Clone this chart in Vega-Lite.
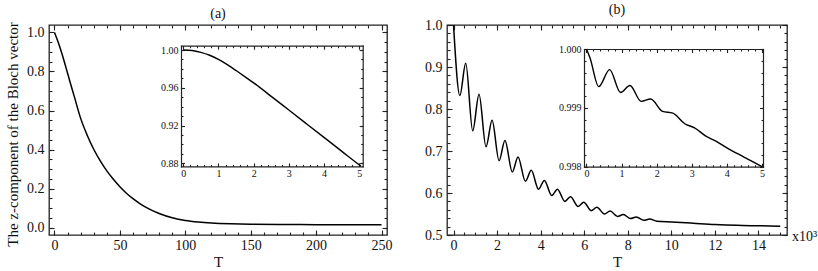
{
  "$schema": "https://vega.github.io/schema/vega-lite/v6.json",
  "autosize": {"type": "pad"},
  "padding": {"left": 4, "top": 2, "right": 0, "bottom": 0},
  "background": "white",
  "datasets": {
    "aMain": [
      {"T": 0, "z": 1.0}, {"T": 2, "z": 0.965}, {"T": 4, "z": 0.927}, {"T": 6, "z": 0.884},
      {"T": 8, "z": 0.838}, {"T": 10, "z": 0.791}, {"T": 12, "z": 0.744}, {"T": 15, "z": 0.675},
      {"T": 20, "z": 0.56}, {"T": 25, "z": 0.474}, {"T": 30, "z": 0.402}, {"T": 35, "z": 0.342},
      {"T": 40, "z": 0.291}, {"T": 45, "z": 0.248}, {"T": 50, "z": 0.21}, {"T": 55, "z": 0.177},
      {"T": 60, "z": 0.149}, {"T": 65, "z": 0.125}, {"T": 70, "z": 0.104}, {"T": 80, "z": 0.073},
      {"T": 90, "z": 0.051}, {"T": 100, "z": 0.037}, {"T": 110, "z": 0.029}, {"T": 120, "z": 0.024},
      {"T": 135, "z": 0.02}, {"T": 150, "z": 0.018}, {"T": 175, "z": 0.017}, {"T": 200, "z": 0.016},
      {"T": 250, "z": 0.015}
    ],
    "aInset": [
      {"T": 0, "z": 1.0}, {"T": 0.25, "z": 0.9995}, {"T": 0.5, "z": 0.9976}, {"T": 0.75, "z": 0.9945},
      {"T": 1.0, "z": 0.99}, {"T": 1.25, "z": 0.9845}, {"T": 1.5, "z": 0.9783}, {"T": 1.75, "z": 0.9718},
      {"T": 2.0, "z": 0.9652}, {"T": 2.5, "z": 0.951}, {"T": 3.0, "z": 0.9365}, {"T": 3.5, "z": 0.922},
      {"T": 4.0, "z": 0.9075}, {"T": 4.5, "z": 0.893}, {"T": 5.0, "z": 0.8785}, {"T": 5.05, "z": 0.8771}
    ],
    "bMain": [
      {"T": 0, "z": 1.0}, {"T": 0.29, "z": 0.832}, {"T": 0.56, "z": 0.909}, {"T": 0.88, "z": 0.748},
      {"T": 1.17, "z": 0.835}, {"T": 1.49, "z": 0.71}, {"T": 1.77, "z": 0.773}, {"T": 2.09, "z": 0.677},
      {"T": 2.36, "z": 0.725}, {"T": 2.7, "z": 0.65}, {"T": 2.96, "z": 0.686}, {"T": 3.3, "z": 0.628},
      {"T": 3.57, "z": 0.654}, {"T": 3.9, "z": 0.609}, {"T": 4.17, "z": 0.63}, {"T": 4.51, "z": 0.594},
      {"T": 4.77, "z": 0.609}, {"T": 5.11, "z": 0.58}, {"T": 5.37, "z": 0.591}, {"T": 5.72, "z": 0.568},
      {"T": 5.98, "z": 0.578}, {"T": 6.32, "z": 0.558}, {"T": 6.58, "z": 0.566}, {"T": 6.93, "z": 0.55},
      {"T": 7.19, "z": 0.557}, {"T": 7.53, "z": 0.544}, {"T": 7.79, "z": 0.549}, {"T": 8.13, "z": 0.539},
      {"T": 8.39, "z": 0.543}, {"T": 8.74, "z": 0.535}, {"T": 9.0, "z": 0.538}, {"T": 9.34, "z": 0.533},
      {"T": 10, "z": 0.531}, {"T": 11, "z": 0.528}, {"T": 12, "z": 0.525}, {"T": 13, "z": 0.523},
      {"T": 14, "z": 0.522}, {"T": 15, "z": 0.521}
    ],
    "bInset": [
      {"T": 0, "z": 1.0}, {"T": 0.1, "z": 0.99985}, {"T": 0.35, "z": 0.99936}, {"T": 0.66, "z": 0.99965},
      {"T": 0.97, "z": 0.99926}, {"T": 1.24, "z": 0.99938}, {"T": 1.56, "z": 0.99911}, {"T": 1.83, "z": 0.99915},
      {"T": 2.17, "z": 0.99894}, {"T": 2.46, "z": 0.99891}, {"T": 2.8, "z": 0.99873}, {"T": 3.08, "z": 0.99866},
      {"T": 3.4, "z": 0.99852}, {"T": 3.7, "z": 0.99843}, {"T": 4.0, "z": 0.99832}, {"T": 4.5, "z": 0.99816},
      {"T": 5.0, "z": 0.998}
    ],
    "bNote": [{"T": 15.31, "z": 0.5, "s": "x10³"}]
  },
  "spacing": 30,
  "hconcat": [
    {
      "width": 338,
      "height": 210,
      "title": {"text": "(a)"},
      "resolve": {"scale": {"x": "independent", "y": "independent"}},
      "layer": [
        {
          "data": {"name": "aMain"},
          "mark": {"type": "line", "color": "#000", "strokeWidth": 1.5, "interpolate": "monotone"},
          "encoding": {
            "x": {"field": "T", "type": "quantitative", "scale": {"domain": [-4.2, 254.2], "nice": false, "zero": false},
              "axis": {"orient": "bottom", "title": "T", "format": "d", "values": [0,50,100,150,200,250], "tickSize": -5, "labelPadding": 8, "titlePadding": 2}},
            "y": {"field": "z", "type": "quantitative", "scale": {"domain": [-0.037, 1.038], "nice": false, "zero": false},
              "axis": {"orient": "left", "title": "The z-component of the Bloch vector", "format": ".1f", "values": [0,0.2,0.4,0.6,0.8,1], "tickSize": -5, "labelPadding": 10, "titlePadding": 6, "titleY": 109}}
          }
        },
        {
          "data": {"name": "aMain"},
          "mark": {"type": "line", "opacity": 0},
          "encoding": {
            "x": {"field": "T", "type": "quantitative", "scale": {"domain": [-4.2, 254.2], "nice": false, "zero": false},
              "axis": {"orient": "top", "title": null, "labels": false, "values": [0,50,100,150,200,250], "tickSize": -5}},
            "y": {"field": "z", "type": "quantitative", "scale": {"domain": [-0.037, 1.038], "nice": false, "zero": false},
              "axis": {"orient": "right", "title": null, "labels": false, "values": [0,0.2,0.4,0.6,0.8,1], "tickSize": -5}}
          }
        },
        {
          "data": {"name": "aMain"},
          "mark": {"type": "line", "opacity": 0},
          "encoding": {
            "x": {"field": "T", "type": "quantitative", "scale": {"domain": [-4.2, 254.2], "nice": false, "zero": false},
              "axis": {"orient": "bottom", "title": null, "labels": false, "tickSize": -3,
                "values": [0,10,20,30,40,50,60,70,80,90,100,110,120,130,140,150,160,170,180,190,200,210,220,230,240,250]}},
            "y": {"field": "z", "type": "quantitative", "scale": {"domain": [-0.037, 1.038], "nice": false, "zero": false},
              "axis": {"orient": "left", "title": null, "labels": false, "tickSize": -3,
                "values": [0,0.05,0.1,0.15,0.2,0.25,0.3,0.35,0.4,0.45,0.5,0.55,0.6,0.65,0.7,0.75,0.8,0.85,0.9,0.95,1]}}
          }
        },
        {
          "data": {"name": "aMain"},
          "mark": {"type": "line", "opacity": 0},
          "encoding": {
            "x": {"field": "T", "type": "quantitative", "scale": {"domain": [-4.2, 254.2], "nice": false, "zero": false},
              "axis": {"orient": "top", "title": null, "labels": false, "tickSize": -3,
                "values": [0,10,20,30,40,50,60,70,80,90,100,110,120,130,140,150,160,170,180,190,200,210,220,230,240,250]}},
            "y": {"field": "z", "type": "quantitative", "scale": {"domain": [-0.037, 1.038], "nice": false, "zero": false},
              "axis": {"orient": "right", "title": null, "labels": false, "tickSize": -3,
                "values": [0,0.05,0.1,0.15,0.2,0.25,0.3,0.35,0.4,0.45,0.5,0.55,0.6,0.65,0.7,0.75,0.8,0.85,0.9,0.95,1]}}
          }
        },
        {
          "data": {"name": "aInset"},
          "mark": {"type": "line", "color": "#000", "strokeWidth": 1.4, "interpolate": "monotone"},
          "encoding": {
            "x": {"field": "T", "type": "quantitative", "scale": {"domain": [-0.065, 5.1], "range": [132, 313.7], "nice": false, "zero": false},
              "axis": {"orient": "bottom", "offset": -68.6, "title": null, "format": "d", "domain": true, "values": [0,1,2,3,4,5], "tickSize": -3.5, "labelFontSize": 10, "labelPadding": 5.5}},
            "y": {"field": "z", "type": "quantitative", "scale": {"domain": [0.8768, 1.0046], "range": [141.4, 20.7], "nice": false, "zero": false},
              "axis": {"orient": "left", "offset": -132, "title": null, "format": ".2f", "domain": true, "values": [0.88,0.92,0.96,1], "tickSize": -3.5, "labelFontSize": 10, "labelPadding": 6.5}}
          }
        },
        {
          "data": {"name": "aInset"},
          "mark": {"type": "line", "opacity": 0},
          "encoding": {
            "x": {"field": "T", "type": "quantitative", "scale": {"domain": [-0.065, 5.1], "range": [132, 313.7], "nice": false, "zero": false},
              "axis": {"orient": "top", "offset": -20.7, "title": null, "labels": false, "domain": true, "values": [0,1,2,3,4,5], "tickSize": -3.5}},
            "y": {"field": "z", "type": "quantitative", "scale": {"domain": [0.8768, 1.0046], "range": [141.4, 20.7], "nice": false, "zero": false},
              "axis": {"orient": "right", "offset": -24.3, "title": null, "labels": false, "domain": true, "values": [0.88,0.92,0.96,1], "tickSize": -3.5}}
          }
        },
        {
          "data": {"name": "aInset"},
          "mark": {"type": "line", "opacity": 0},
          "encoding": {
            "x": {"field": "T", "type": "quantitative", "scale": {"domain": [-0.065, 5.1], "range": [132, 313.7], "nice": false, "zero": false},
              "axis": {"orient": "bottom", "offset": -68.6, "title": null, "labels": false, "tickSize": -2,
                "values": [0,0.2,0.4,0.6,0.8,1,1.2,1.4,1.6,1.8,2,2.2,2.4,2.6,2.8,3,3.2,3.4,3.6,3.8,4,4.2,4.4,4.6,4.8,5]}},
            "y": {"field": "z", "type": "quantitative", "scale": {"domain": [0.8768, 1.0046], "range": [141.4, 20.7], "nice": false, "zero": false},
              "axis": {"orient": "left", "offset": -132, "title": null, "labels": false, "tickSize": -2,
                "values": [0.88,0.89,0.9,0.91,0.92,0.93,0.94,0.95,0.96,0.97,0.98,0.99,1]}}
          }
        },
        {
          "data": {"name": "aInset"},
          "mark": {"type": "line", "opacity": 0},
          "encoding": {
            "x": {"field": "T", "type": "quantitative", "scale": {"domain": [-0.065, 5.1], "range": [132, 313.7], "nice": false, "zero": false},
              "axis": {"orient": "top", "offset": -20.7, "title": null, "labels": false, "tickSize": -2,
                "values": [0,0.2,0.4,0.6,0.8,1,1.2,1.4,1.6,1.8,2,2.2,2.4,2.6,2.8,3,3.2,3.4,3.6,3.8,4,4.2,4.4,4.6,4.8,5]}},
            "y": {"field": "z", "type": "quantitative", "scale": {"domain": [0.8768, 1.0046], "range": [141.4, 20.7], "nice": false, "zero": false},
              "axis": {"orient": "right", "offset": -24.3, "title": null, "labels": false, "tickSize": -2,
                "values": [0.88,0.89,0.9,0.91,0.92,0.93,0.94,0.95,0.96,0.97,0.98,0.99,1]}}
          }
        }
      ]
    },
    {
      "width": 340,
      "height": 210,
      "title": {"text": "(b)"},
      "resolve": {"scale": {"x": "independent", "y": "independent"}},
      "layer": [
        {
          "data": {"name": "bMain"},
          "mark": {"type": "line", "color": "#000", "strokeWidth": 1.5, "interpolate": "monotone"},
          "encoding": {
            "x": {"field": "T", "type": "quantitative", "scale": {"domain": [-0.3, 15.31], "nice": false, "zero": false},
              "axis": {"orient": "bottom", "title": "T", "format": "d", "values": [0,2,4,6,8,10,12,14], "tickSize": -5, "labelPadding": 8, "titlePadding": 2}},
            "y": {"field": "z", "type": "quantitative", "scale": {"domain": [0.5, 1.0], "nice": false, "zero": false},
              "axis": {"orient": "left", "title": null, "format": ".1f", "values": [0.5,0.6,0.7,0.8,0.9,1], "tickSize": -5, "labelPadding": 10}}
          }
        },
        {
          "data": {"name": "bMain"},
          "mark": {"type": "line", "opacity": 0},
          "encoding": {
            "x": {"field": "T", "type": "quantitative", "scale": {"domain": [-0.3, 15.31], "nice": false, "zero": false},
              "axis": {"orient": "top", "title": null, "labels": false, "values": [0,2,4,6,8,10,12,14], "tickSize": -5}},
            "y": {"field": "z", "type": "quantitative", "scale": {"domain": [0.5, 1.0], "nice": false, "zero": false},
              "axis": {"orient": "right", "title": null, "labels": false, "values": [0.5,0.6,0.7,0.8,0.9,1], "tickSize": -5}}
          }
        },
        {
          "data": {"name": "bMain"},
          "mark": {"type": "line", "opacity": 0},
          "encoding": {
            "x": {"field": "T", "type": "quantitative", "scale": {"domain": [-0.3, 15.31], "nice": false, "zero": false},
              "axis": {"orient": "bottom", "title": null, "labels": false, "tickSize": -3,
                "values": [0,0.5,1,1.5,2,2.5,3,3.5,4,4.5,5,5.5,6,6.5,7,7.5,8,8.5,9,9.5,10,10.5,11,11.5,12,12.5,13,13.5,14,14.5,15]}},
            "y": {"field": "z", "type": "quantitative", "scale": {"domain": [0.5, 1.0], "nice": false, "zero": false},
              "axis": {"orient": "left", "title": null, "labels": false, "tickSize": -3,
                "values": [0.5,0.52,0.54,0.56,0.58,0.6,0.62,0.64,0.66,0.68,0.7,0.72,0.74,0.76,0.78,0.8,0.82,0.84,0.86,0.88,0.9,0.92,0.94,0.96,0.98,1]}}
          }
        },
        {
          "data": {"name": "bMain"},
          "mark": {"type": "line", "opacity": 0},
          "encoding": {
            "x": {"field": "T", "type": "quantitative", "scale": {"domain": [-0.3, 15.31], "nice": false, "zero": false},
              "axis": {"orient": "top", "title": null, "labels": false, "tickSize": -3,
                "values": [0,0.5,1,1.5,2,2.5,3,3.5,4,4.5,5,5.5,6,6.5,7,7.5,8,8.5,9,9.5,10,10.5,11,11.5,12,12.5,13,13.5,14,14.5,15]}},
            "y": {"field": "z", "type": "quantitative", "scale": {"domain": [0.5, 1.0], "nice": false, "zero": false},
              "axis": {"orient": "right", "title": null, "labels": false, "tickSize": -3,
                "values": [0.5,0.52,0.54,0.56,0.58,0.6,0.62,0.64,0.66,0.68,0.7,0.72,0.74,0.76,0.78,0.8,0.82,0.84,0.86,0.88,0.9,0.92,0.94,0.96,0.98,1]}}
          }
        },
        {
          "data": {"name": "bInset"},
          "mark": {"type": "line", "color": "#000", "strokeWidth": 1.4, "interpolate": "monotone"},
          "encoding": {
            "x": {"field": "T", "type": "quantitative", "scale": {"domain": [-0.07, 5.03], "range": [137, 316], "nice": false, "zero": false},
              "axis": {"orient": "bottom", "offset": -68.3, "title": null, "format": "d", "domain": true, "values": [0,1,2,3,4,5], "tickSize": -3.5, "labelFontSize": 10, "labelPadding": 5.5}},
            "y": {"field": "z", "type": "quantitative", "scale": {"domain": [0.998, 1.0], "range": [141.7, 24], "nice": false, "zero": false},
              "axis": {"orient": "left", "offset": -137, "title": null, "format": ".3f", "domain": true, "values": [0.998,0.999,1], "tickSize": -3.5, "labelFontSize": 10, "labelPadding": 6.5}}
          }
        },
        {
          "data": {"name": "bInset"},
          "mark": {"type": "line", "opacity": 0},
          "encoding": {
            "x": {"field": "T", "type": "quantitative", "scale": {"domain": [-0.07, 5.03], "range": [137, 316], "nice": false, "zero": false},
              "axis": {"orient": "top", "offset": -24, "title": null, "labels": false, "domain": true, "values": [0,1,2,3,4,5], "tickSize": -3.5}},
            "y": {"field": "z", "type": "quantitative", "scale": {"domain": [0.998, 1.0], "range": [141.7, 24], "nice": false, "zero": false},
              "axis": {"orient": "right", "offset": -24, "title": null, "labels": false, "domain": true, "values": [0.998,0.999,1], "tickSize": -3.5}}
          }
        },
        {
          "data": {"name": "bInset"},
          "mark": {"type": "line", "opacity": 0},
          "encoding": {
            "x": {"field": "T", "type": "quantitative", "scale": {"domain": [-0.07, 5.03], "range": [137, 316], "nice": false, "zero": false},
              "axis": {"orient": "bottom", "offset": -68.3, "title": null, "labels": false, "tickSize": -2,
                "values": [0,0.2,0.4,0.6,0.8,1,1.2,1.4,1.6,1.8,2,2.2,2.4,2.6,2.8,3,3.2,3.4,3.6,3.8,4,4.2,4.4,4.6,4.8,5]}},
            "y": {"field": "z", "type": "quantitative", "scale": {"domain": [0.998, 1.0], "range": [141.7, 24], "nice": false, "zero": false},
              "axis": {"orient": "left", "offset": -137, "title": null, "labels": false, "tickSize": -2,
                "values": [0.998,0.9982,0.9984,0.9986,0.9988,0.999,0.9992,0.9994,0.9996,0.9998,1]}}
          }
        },
        {
          "data": {"name": "bInset"},
          "mark": {"type": "line", "opacity": 0},
          "encoding": {
            "x": {"field": "T", "type": "quantitative", "scale": {"domain": [-0.07, 5.03], "range": [137, 316], "nice": false, "zero": false},
              "axis": {"orient": "top", "offset": -24, "title": null, "labels": false, "tickSize": -2,
                "values": [0,0.2,0.4,0.6,0.8,1,1.2,1.4,1.6,1.8,2,2.2,2.4,2.6,2.8,3,3.2,3.4,3.6,3.8,4,4.2,4.4,4.6,4.8,5]}},
            "y": {"field": "z", "type": "quantitative", "scale": {"domain": [0.998, 1.0], "range": [141.7, 24], "nice": false, "zero": false},
              "axis": {"orient": "right", "offset": -24, "title": null, "labels": false, "tickSize": -2,
                "values": [0.998,0.9982,0.9984,0.9986,0.9988,0.999,0.9992,0.9994,0.9996,0.9998,1]}}
          }
        },
        {
          "data": {"name": "bNote"},
          "mark": {"type": "text", "align": "left", "baseline": "middle", "dx": 5, "dy": 2, "fontSize": 14, "font": "Liberation Serif", "color": "#111"},
          "encoding": {
            "x": {"field": "T", "type": "quantitative", "scale": {"domain": [-0.3, 15.31], "nice": false, "zero": false}, "axis": null},
            "y": {"field": "z", "type": "quantitative", "scale": {"domain": [0.5, 1.0], "nice": false, "zero": false}, "axis": null},
            "text": {"field": "s"}
          }
        }
      ]
    }
  ],
  "config": {
    "font": "Liberation Serif",
    "view": {"stroke": "#222", "strokeWidth": 1.3},
    "axis": {
      "labelFont": "Liberation Serif", "titleFont": "Liberation Serif",
      "labelFontSize": 14, "titleFontSize": 15, "titleFontWeight": "normal",
      "labelColor": "#111", "titleColor": "#111",
      "tickColor": "#222", "tickWidth": 1.1,
      "domain": false, "domainColor": "#222", "domainWidth": 1.2, "domainCap": "square",
      "grid": false, "labelOverlap": false, "labelFlush": false, "labelBound": false
    },
    "title": {"font": "Liberation Serif", "fontSize": 14, "fontWeight": "normal", "color": "#111", "offset": 1, "frame": "group"}
  }
}
